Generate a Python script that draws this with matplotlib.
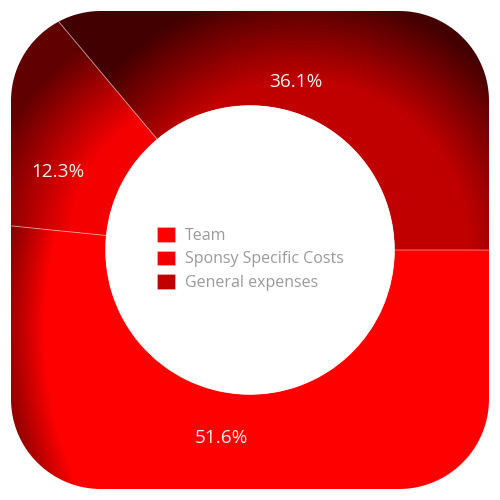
import numpy as np
import matplotlib
matplotlib.use("Agg")
import matplotlib.pyplot as plt
from matplotlib.patches import FancyBboxPatch

plt.rcParams['font.family'] = ['Open Sans', 'DejaVu Sans']

# ---- data ----
categories = ['Team', 'Sponsy Specific Costs', 'General expenses']
values = [51.6, 12.3, 36.1]
colors = ['#ff0000', '#f40000', '#c00000']

# ---- layout / style ----
W = H = 500
CX, CY = 250, 250
R_OUT, R_IN = 340, 144.5
BOX = (11, 11, 478, 478)      # rounded container (x, y, w, h) in pixels
CORNER = 90
# per-slice elliptical shading (screen coords):
# gx, gy, rx, ry, rho_end, max darkening  (bright inside rho=1)
shading = [(274, 330, 229, 300, 1.24, 0.60),
           (210, 240, 140, 140, 230 / 140, 0.60),
           (300, 250, 170, 170, 260 / 170, 0.65)]
label_pos = [(221, 443), (57.5, 177), (296, 87.3)]   # screen coords, baseline

fig = plt.figure(figsize=(5, 5), dpi=100)
ax = fig.add_axes([0, 0, 1, 1])

wedges, _ = ax.pie(values, colors=colors, startangle=0, counterclock=False,
                   center=(CX, CY), radius=R_OUT,
                   wedgeprops=dict(width=R_OUT - R_IN, edgecolor=(1, 1, 1, 0.25),
                                   linewidth=0.7))
ax.set_xlim(0, W)
ax.set_ylim(0, H)
ax.set_aspect('equal')
ax.axis('off')

# legend (built while wedges still carry their fill colours)
leg = ax.legend(wedges, categories, loc='upper left',
                bbox_to_anchor=(157 / W, 1 - 227 / H), frameon=False,
                borderpad=0, borderaxespad=0, handlelength=1.15, handleheight=1.05,
                handletextpad=0.6, labelspacing=0.42, fontsize=11.5,
                labelcolor='#9a9a9a')

# rounded container clip
box = FancyBboxPatch((BOX[0], BOX[1]), BOX[2], BOX[3],
                     boxstyle=f"round,pad=0,rounding_size={CORNER}",
                     transform=ax.transData, facecolor='none', edgecolor='none')

# pixel grid (screen coords)
yy, xx = np.mgrid[0:H, 0:W].astype(float)
yy += 0.5
xx += 0.5
hx = BOX[2] / 2 - CORNER
hy = BOX[3] / 2 - CORNER
bx = BOX[0] + BOX[2] / 2
by = BOX[1] + BOX[3] / 2
qx = np.abs(xx - bx) - hx
qy = np.abs(yy - by) - hy
outside = np.hypot(np.maximum(qx, 0), np.maximum(qy, 0))
inside = np.minimum(np.maximum(qx, qy), 0)
sd = outside + inside - CORNER
box_alpha = np.clip(0.5 - sd, 0, 1)
rr = np.hypot(xx - CX, yy - (H - CY))
hole_alpha = np.clip(rr - R_IN + 0.5, 0, 1)
alpha = box_alpha * hole_alpha

for w, col, (gx, gy, rx, ry, r1, k) in zip(wedges, colors, shading):
    base = np.array(matplotlib.colors.to_rgb(col))
    rho = np.hypot((xx - gx) / rx, (yy - gy) / ry)
    t = np.clip((rho - 1) / (r1 - 1), 0, 1)
    fac = 1 - k * t
    img = np.zeros((H, W, 4))
    img[..., :3] = base[None, None, :] * fac[..., None]
    img[..., 3] = alpha
    im = ax.imshow(img, extent=(0, W, 0, H), origin='upper',
                   interpolation='nearest', zorder=2)
    im.set_clip_path(w)

for w in wedges:
    w.set_facecolor('none')
    w.set_zorder(3)
    w.set_clip_path(box)

for v, (x, y) in zip(values, label_pos):
    ax.text(x, H - y, f"{v:.1f}%", ha='center', va='baseline',
            fontsize=13.7, color='#f2f2f2', zorder=4)

fig.savefig('out.png', dpi=100)
